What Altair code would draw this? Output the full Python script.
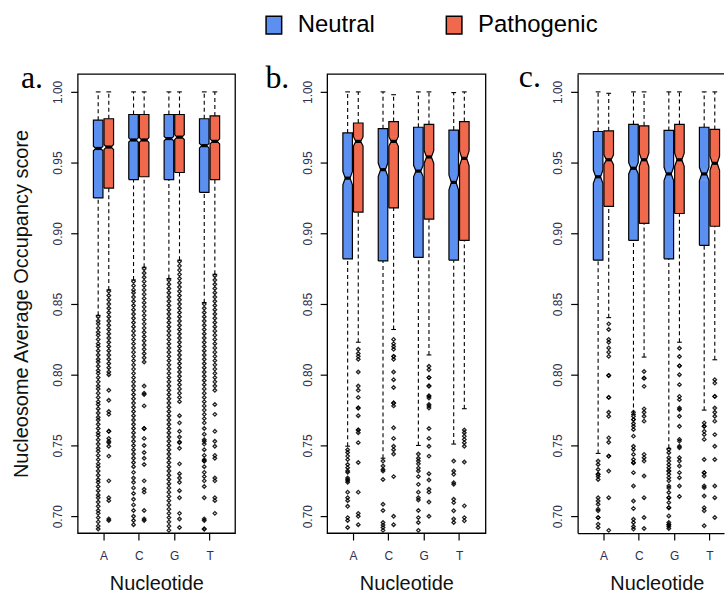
import json
import itertools
import altair as alt
import pandas as pd

panels = ["a.", "b.", "c."]
nucleotides = ["A", "C", "G", "T"]
groups = ["Neutral", "Pathogenic"]
colors = ["#5b8ff0", "#f0694d"]
y_ticks = [0.70, 0.75, 0.80, 0.85, 0.90, 0.95, 1.00]
y_title = "Nucleosome Average Occupancy score"
x_title = "Nucleotide"

# box statistics; order: A-Neutral, A-Pathogenic, C-N, C-P, G-N, G-P, T-N, T-P
a_upper = [1.000, 1.000, 1.000, 1.000, 1.000, 1.000, 1.000, 1.000]
a_q3 = [0.980, 0.981, 0.984, 0.984, 0.984, 0.984, 0.981, 0.983]
a_median = [0.960, 0.961, 0.966, 0.966, 0.967, 0.968, 0.962, 0.965]
a_q1 = [0.925, 0.932, 0.938, 0.940, 0.938, 0.943, 0.929, 0.938]
a_lower = [0.842, 0.860, 0.867, 0.876, 0.868, 0.881, 0.851, 0.871]
a_notch = [0.0016, 0.0018, 0.0015, 0.0017, 0.0015, 0.0017, 0.0016, 0.0018]

b_upper = [1.000, 1.000, 1.000, 0.998, 1.000, 1.000, 0.9995, 1.000]
b_q3 = [0.971, 0.978, 0.974, 0.979, 0.975, 0.977, 0.973, 0.979]
b_median = [0.939, 0.965, 0.945, 0.965, 0.944, 0.954, 0.936, 0.953]
b_q1 = [0.882, 0.915, 0.8805, 0.918, 0.883, 0.910, 0.881, 0.895]
b_lower = [0.7495, 0.823, 0.741, 0.832, 0.750, 0.814, 0.751, 0.776]
b_notch = [0.0047, 0.0033, 0.0047, 0.0035, 0.0041, 0.0044, 0.0053, 0.0052]

c_upper = [1.000, 0.999, 1.000, 1.000, 1.000, 1.000, 1.000, 1.000]
c_q3 = [0.972, 0.9725, 0.977, 0.976, 0.9728, 0.977, 0.975, 0.9735]
c_median = [0.940, 0.952, 0.946, 0.952, 0.942, 0.952, 0.942, 0.9495]
c_q1 = [0.881, 0.919, 0.895, 0.907, 0.882, 0.914, 0.8915, 0.905]
c_lower = [0.7444, 0.8404, 0.772, 0.8125, 0.748, 0.823, 0.775, 0.8106]
c_notch = [0.0047, 0.0035, 0.0040, 0.0047, 0.0047, 0.0047, 0.0047, 0.0050]

# outliers
a_A_N = [0.841, 0.838, 0.836, 0.833, 0.830, 0.828, 0.825, 0.822, 0.820, 0.817, 0.814, 0.811, 0.809,
         0.806, 0.803, 0.801, 0.798, 0.795, 0.792, 0.790, 0.787, 0.784, 0.781, 0.779, 0.776, 0.773,
         0.770, 0.768, 0.765, 0.762, 0.759, 0.757, 0.754, 0.751, 0.748, 0.746, 0.743, 0.740, 0.737,
         0.735, 0.732, 0.729, 0.726, 0.724, 0.721, 0.718, 0.715, 0.713, 0.710, 0.707, 0.704, 0.702,
         0.699, 0.696, 0.693, 0.691]
a_A_P = [0.859, 0.856, 0.853, 0.850, 0.847, 0.844, 0.841, 0.838, 0.835, 0.832, 0.829, 0.826, 0.823,
         0.820, 0.817, 0.814, 0.811, 0.808, 0.805, 0.802, 0.800, 0.789, 0.782, 0.774, 0.772, 0.760,
         0.760, 0.755, 0.752, 0.753, 0.7495, 0.7425, 0.725, 0.713, 0.711, 0.698, 0.697]
a_C_N = [0.866, 0.863, 0.860, 0.858, 0.855, 0.852, 0.849, 0.846, 0.843, 0.840, 0.837, 0.834, 0.831,
         0.828, 0.825, 0.822, 0.819, 0.816, 0.813, 0.810, 0.807, 0.804, 0.801, 0.798, 0.795, 0.792,
         0.789, 0.786, 0.783, 0.780, 0.777, 0.774, 0.771, 0.768, 0.765, 0.762, 0.759, 0.756, 0.753,
         0.750, 0.747, 0.744, 0.741, 0.738, 0.735, 0.731, 0.727, 0.724, 0.720, 0.716, 0.712, 0.708,
         0.704, 0.700, 0.697, 0.694]
a_C_P = [0.875, 0.872, 0.869, 0.866, 0.863, 0.860, 0.857, 0.854, 0.851, 0.848, 0.845, 0.842, 0.839,
         0.836, 0.833, 0.830, 0.827, 0.824, 0.821, 0.818, 0.815, 0.812, 0.809, 0.792, 0.787, 0.786,
         0.778, 0.762, 0.762, 0.755, 0.750, 0.745, 0.741, 0.7366, 0.725, 0.719, 0.717, 0.704, 0.698,
         0.697]
a_G_N = [0.867, 0.864, 0.861, 0.858, 0.855, 0.852, 0.849, 0.846, 0.843, 0.840, 0.837, 0.834, 0.831,
         0.828, 0.825, 0.822, 0.819, 0.816, 0.813, 0.810, 0.807, 0.804, 0.801, 0.798, 0.795, 0.792,
         0.789, 0.786, 0.783, 0.780, 0.777, 0.774, 0.771, 0.768, 0.765, 0.762, 0.759, 0.756, 0.753,
         0.750, 0.747, 0.744, 0.741, 0.738, 0.735, 0.732, 0.729, 0.726, 0.723, 0.720, 0.717, 0.714,
         0.711, 0.708, 0.705, 0.702, 0.699, 0.696, 0.693, 0.690]
a_G_P = [0.880, 0.877, 0.874, 0.871, 0.868, 0.865, 0.862, 0.859, 0.856, 0.853, 0.850, 0.847, 0.844,
         0.841, 0.838, 0.835, 0.832, 0.829, 0.826, 0.823, 0.820, 0.817, 0.814, 0.811, 0.808, 0.805,
         0.802, 0.799, 0.796, 0.793, 0.790, 0.787, 0.784, 0.781, 0.771, 0.766, 0.760, 0.756, 0.752,
         0.7525, 0.748, 0.737, 0.730, 0.727, 0.724, 0.718, 0.713, 0.702, 0.698, 0.692]
a_T_N = [0.850, 0.847, 0.844, 0.841, 0.838, 0.835, 0.832, 0.829, 0.826, 0.823, 0.820, 0.817, 0.814,
         0.811, 0.808, 0.805, 0.802, 0.799, 0.796, 0.793, 0.790, 0.787, 0.784, 0.781, 0.778, 0.775,
         0.772, 0.769, 0.766, 0.762, 0.758, 0.754, 0.751, 0.753, 0.747, 0.743, 0.740, 0.739, 0.739,
         0.735, 0.731, 0.728, 0.725, 0.721, 0.713, 0.698, 0.697, 0.691, 0.691]
a_T_P = [0.870, 0.867, 0.864, 0.861, 0.858, 0.855, 0.852, 0.849, 0.846, 0.843, 0.840, 0.837, 0.834,
         0.831, 0.828, 0.825, 0.822, 0.819, 0.816, 0.813, 0.810, 0.807, 0.804, 0.801, 0.798, 0.795,
         0.792, 0.789, 0.779, 0.772, 0.760, 0.753, 0.7495, 0.743, 0.741, 0.727, 0.725, 0.713, 0.711,
         0.702]

b_A_N = [0.747, 0.745, 0.7425, 0.740, 0.7366, 0.7343, 0.732, 0.731, 0.727, 0.726, 0.725, 0.724,
         0.717, 0.713, 0.711, 0.707, 0.699, 0.697, 0.692]
b_A_P = [0.818, 0.815, 0.813, 0.811, 0.802, 0.792, 0.789, 0.784, 0.7765, 0.7765, 0.771, 0.761, 0.761,
         0.759, 0.752, 0.738, 0.717, 0.702, 0.700, 0.694]
b_C_N = [0.739, 0.7355, 0.733, 0.732, 0.726, 0.7085, 0.704, 0.6956, 0.6937, 0.692, 0.690]
b_C_P = [0.825, 0.822, 0.820, 0.818, 0.813, 0.813, 0.811, 0.802, 0.7965, 0.791, 0.780, 0.780, 0.778,
         0.7625, 0.755, 0.7495, 0.747, 0.744, 0.728, 0.700, 0.694]
b_G_N = [0.744, 0.741, 0.739, 0.737, 0.734, 0.732, 0.728, 0.7225, 0.717, 0.713, 0.7115, 0.704,
         0.699, 0.6956, 0.690]
b_G_P = [0.806, 0.8035, 0.798, 0.798, 0.792, 0.792, 0.785, 0.785, 0.7836, 0.779, 0.778, 0.7765,
         0.762, 0.755, 0.7495, 0.7425, 0.730, 0.7256, 0.719, 0.717, 0.710, 0.700]
b_T_N = [0.739, 0.732, 0.7296, 0.7237, 0.7225, 0.712, 0.7096, 0.7038, 0.698, 0.6956]
b_T_P = [0.761, 0.759, 0.7566, 0.7543, 0.752, 0.7495, 0.7383, 0.7073, 0.699, 0.6967]

c_A_N = [0.739, 0.7366, 0.733, 0.7296, 0.7296, 0.728, 0.726, 0.713, 0.7108, 0.7085, 0.705, 0.7038,
         0.699, 0.699, 0.6944, 0.692]
c_A_P = [0.836, 0.832, 0.825, 0.823, 0.819, 0.816, 0.813, 0.7995, 0.7995, 0.784, 0.784, 0.7735,
         0.7707, 0.7554, 0.7523, 0.7425, 0.7425, 0.7319, 0.7131, 0.690]
c_C_N = [0.7735, 0.7707, 0.7683, 0.7683, 0.7655, 0.7636, 0.7613, 0.7566, 0.7495, 0.7472, 0.7437,
         0.7401, 0.7378, 0.7378, 0.7308, 0.7214, 0.7108, 0.7054, 0.6979, 0.6956, 0.6927, 0.6909]
c_C_P = [0.8023, 0.7976, 0.7976, 0.7918, 0.7759, 0.7735, 0.7707, 0.7672, 0.7437, 0.7413, 0.739,
         0.7284, 0.7131, 0.6991, 0.6913]
c_G_N = [0.7472, 0.7449, 0.7413, 0.739, 0.7366, 0.7343, 0.7319, 0.7319, 0.7296, 0.7272, 0.725,
         0.7214, 0.72, 0.7167, 0.7131, 0.7131, 0.7096, 0.706, 0.706, 0.7002, 0.6956, 0.694, 0.694,
         0.6927, 0.6913]
c_G_P = [0.8188, 0.8129, 0.8063, 0.8063, 0.800, 0.793, 0.7847, 0.7824, 0.7765, 0.7754, 0.7707,
         0.7636, 0.7543, 0.7531, 0.7495, 0.7484, 0.7413, 0.739, 0.7355, 0.7308, 0.7272, 0.7214,
         0.7139]
c_T_N = [0.766, 0.7636, 0.7636, 0.760, 0.7577, 0.7543, 0.7401, 0.7308, 0.7308, 0.7284, 0.7214,
         0.7202, 0.7143, 0.706, 0.7038, 0.6932]
c_T_P = [0.7965, 0.7941, 0.7847, 0.7847, 0.7765, 0.7735, 0.7707, 0.7672, 0.7577, 0.7495, 0.7401,
         0.7214, 0.7131, 0.6991]

stats = {
    "a.": dict(upper=a_upper, q3=a_q3, med=a_median, q1=a_q1, lower=a_lower, notch=a_notch),
    "b.": dict(upper=b_upper, q3=b_q3, med=b_median, q1=b_q1, lower=b_lower, notch=b_notch),
    "c.": dict(upper=c_upper, q3=c_q3, med=c_median, q1=c_q1, lower=c_lower, notch=c_notch),
}
outliers = {
    "a.": [a_A_N, a_A_P, a_C_N, a_C_P, a_G_N, a_G_P, a_T_N, a_T_P],
    "b.": [b_A_N, b_A_P, b_C_N, b_C_P, b_G_N, b_G_P, b_T_N, b_T_P],
    "c.": [c_A_N, c_A_P, c_C_N, c_C_P, c_G_N, c_G_P, c_T_N, c_T_P],
}

# ---- layout / geometry (styles, not data) ----
offsets = {"Neutral": -0.15, "Pathogenic": 0.15}
half_w = 0.135
px_per_unit = 35.5
x_left = 0.27
panel_w = {"a.": 158, "b.": 159, "c.": 147}
panel_h = 461
y_domain = [0.6881, 1.0127]
title_dx = {"a.": -57, "b.": -62, "c.": -59}
n_slices = 6
eps = 0.0002

fill_rows, line_rows, med_rows, wh_rows, cap_rows, out_rows = [], [], [], [], [], []
for p in panels:
    s = stats[p]
    for i, (nuc, grp) in enumerate(itertools.product(nucleotides, groups)):
        cx = nucleotides.index(nuc) + 1 + offsets[grp]
        key = f"{nuc}-{grp}"
        m, n = s["med"][i], s["notch"][i]
        q1, q3 = s["q1"][i], s["q3"][i]
        fill_rows.append(dict(key=key, group=grp, panel=p, y=q1, y2=m - n + eps,
                              xl=cx - half_w, xr=cx + half_w))
        fill_rows.append(dict(key=key, group=grp, panel=p, y=m + n - eps, y2=q3,
                              xl=cx - half_w, xr=cx + half_w))
        for j in range(n_slices):
            t0, t1 = j / n_slices, (j + 1) / n_slices
            w = half_w * (1 - 0.5 * (t0 + t1) / 2)
            fill_rows.append(dict(key=key, group=grp, panel=p, y=m - n + t0 * n - eps,
                                  y2=m - n + t1 * n + eps, xl=cx - w, xr=cx + w))
            fill_rows.append(dict(key=key, group=grp, panel=p, y=m + n - t1 * n - eps,
                                  y2=m + n - t0 * n + eps, xl=cx - w, xr=cx + w))
        pts = [(cx - half_w, q1), (cx + half_w, q1), (cx + half_w, m - n), (cx + half_w / 2, m),
               (cx + half_w, m + n), (cx + half_w, q3), (cx - half_w, q3), (cx - half_w, m + n),
               (cx - half_w / 2, m), (cx - half_w, m - n), (cx - half_w, q1)]
        for k, (xx, yy) in enumerate(pts):
            line_rows.append(dict(key=key, panel=p, ord=k, x=xx, y=yy))
        med_rows.append(dict(panel=p, key=key, y=m, xl=cx - half_w / 2 - 0.01, xr=cx + half_w / 2 + 0.01))
        wh_rows.append(dict(panel=p, key=key, x=cx, y=q3, y2=s["upper"][i]))
        wh_rows.append(dict(panel=p, key=key, x=cx, y=s["lower"][i], y2=q1))
        for yv in (s["upper"][i], s["lower"][i]):
            cap_rows.append(dict(panel=p, key=key, y=yv, xl=cx - half_w / 2, xr=cx + half_w / 2))
        for yv in outliers[p][i]:
            out_rows.append(dict(panel=p, key=key, x=cx, y=yv))

fill_df = pd.DataFrame(fill_rows)
line_df = pd.DataFrame(line_rows)
med_df = pd.DataFrame(med_rows)
wh_df = pd.DataFrame(wh_rows)
cap_df = pd.DataFrame(cap_rows)
out_df = pd.DataFrame(out_rows)

lab_col = "#2e2e50"
font = "Liberation Sans"
label_expr = json.dumps(nucleotides) + "[datum.value - 1]"


def x_axis(p):
    kw = dict(title=x_title, values=[1, 2, 3, 4], labelExpr=label_expr, grid=False,
              domain=(p == "c."), domainColor="black", domainWidth=1.3,
              tickSize=7, tickColor="black", tickWidth=1.2, labelFontSize=12,
              labelFont=font, labelColor=lab_col, labelPadding=11, labelAngle=0,
              titleFontSize=20, titleFont=font, titleFontWeight="normal", titleColor="#111",
              titlePadding=12)
    if p == "c.":
        kw["titleX"] = 79.5
    return alt.Axis(**kw)


def y_axis(p):
    kw = dict(values=y_ticks, format=".2f", grid=False, domain=(p == "c."), domainColor="black",
              domainWidth=1.3, tickSize=7, tickColor="black", tickWidth=1.2, labelFontSize=12,
              labelFont=font, labelColor=lab_col, labelAngle=270, labelAlign="center",
              labelBaseline="bottom", labelPadding=6)
    if p == "a.":
        kw.update(title=y_title, titleFontSize=20, titleFont=font, titleFontWeight="normal",
                  titleColor="#111", titlePadding=20)
    else:
        kw.update(title=None)
    return alt.Axis(**kw)


color_scale = alt.Scale(domain=groups, range=colors)
color = alt.Color("group:N", scale=color_scale,
                  legend=alt.Legend(title=None, orient="none", legendX=185, legendY=-61,
                                    direction="horizontal",
                                    symbolType="M-0.87,-1H0.87V1H-0.87Z", symbolSize=324,
                                    symbolStrokeColor="black", symbolStrokeWidth=1.5,
                                    symbolOpacity=1, labelFontSize=24, labelFont=font,
                                    labelColor="black", labelOffset=12, columnPadding=67,
                                    padding=0))


def panel(p):
    dom = [x_left, x_left + panel_w[p] / px_per_unit]
    xs = alt.Scale(domain=dom, nice=False, zero=False)
    ys = alt.Scale(domain=y_domain, nice=False, zero=False)
    xa, ya = x_axis(p), y_axis(p)
    fills = alt.Chart(fill_df[fill_df.panel == p]).mark_rect(strokeWidth=0).encode(
        y=alt.Y("y:Q", scale=ys, axis=ya),
        y2="y2:Q",
        x=alt.X("xl:Q", scale=xs, axis=xa),
        x2="xr:Q",
        color=color,
    )
    outline = alt.Chart(line_df[line_df.panel == p]).mark_line(
        color="black", strokeWidth=1.2
    ).encode(
        x=alt.X("x:Q", scale=xs, axis=xa),
        y=alt.Y("y:Q", scale=ys, axis=ya),
        detail="key:N",
        order="ord:Q",
    )
    whisk = alt.Chart(wh_df[wh_df.panel == p]).mark_rule(
        color="black", strokeWidth=1.1, strokeDash=[4, 3]
    ).encode(
        x=alt.X("x:Q", scale=xs, axis=xa),
        y=alt.Y("y:Q", scale=ys, axis=ya),
        y2="y2:Q",
    )
    caps = alt.Chart(cap_df[cap_df.panel == p]).mark_rule(color="black", strokeWidth=1.1).encode(
        x=alt.X("xl:Q", scale=xs, axis=xa),
        x2="xr:Q",
        y=alt.Y("y:Q", scale=ys, axis=ya),
    )
    meds = alt.Chart(med_df[med_df.panel == p]).mark_rule(color="black", strokeWidth=3.2).encode(
        x=alt.X("xl:Q", scale=xs, axis=xa),
        x2="xr:Q",
        y=alt.Y("y:Q", scale=ys, axis=ya),
    )
    outs = alt.Chart(out_df[out_df.panel == p]).mark_point(
        shape="diamond", filled=False, size=13, strokeWidth=1.3, color="#000", opacity=0.85
    ).encode(
        x=alt.X("x:Q", scale=xs, axis=xa),
        y=alt.Y("y:Q", scale=ys, axis=ya),
    )
    layers = [whisk, caps, fills, outline, meds, outs]
    props = dict(
        width=panel_w[p], height=panel_h,
        title=alt.TitleParams(p, anchor="start", frame="group", dx=title_dx[p], dy=46,
                              fontSize=32, font="Liberation Serif", fontWeight="normal",
                              color="black", offset=0, baseline="alphabetic"),
    )
    if p == "c.":
        # top edge of the plot frame (the right edge falls outside the picture)
        frame_df = pd.DataFrame({"x0": [dom[0]], "x1": [dom[1]], "ytop": [y_domain[1]]})
        top = alt.Chart(frame_df).mark_rule(color="black", strokeWidth=1.3).encode(
            x=alt.X("x0:Q", scale=xs, axis=xa),
            x2="x1:Q",
            y=alt.Y("ytop:Q", scale=ys, axis=ya),
        )
        layers.append(top)
        return alt.layer(*layers).properties(
            view=alt.ViewBackground(stroke="transparent"), **props)
    return alt.layer(*layers).properties(**props)


chart = alt.hconcat(*[panel(p) for p in panels], spacing=92.5, bounds="flush").properties(
    padding={"left": 11, "top": 12, "right": 0, "bottom": 0}
).configure_view(stroke="black", strokeWidth=1.3)

chart.save("out.html", embed_options={"renderer": "svg", "actions": False})
